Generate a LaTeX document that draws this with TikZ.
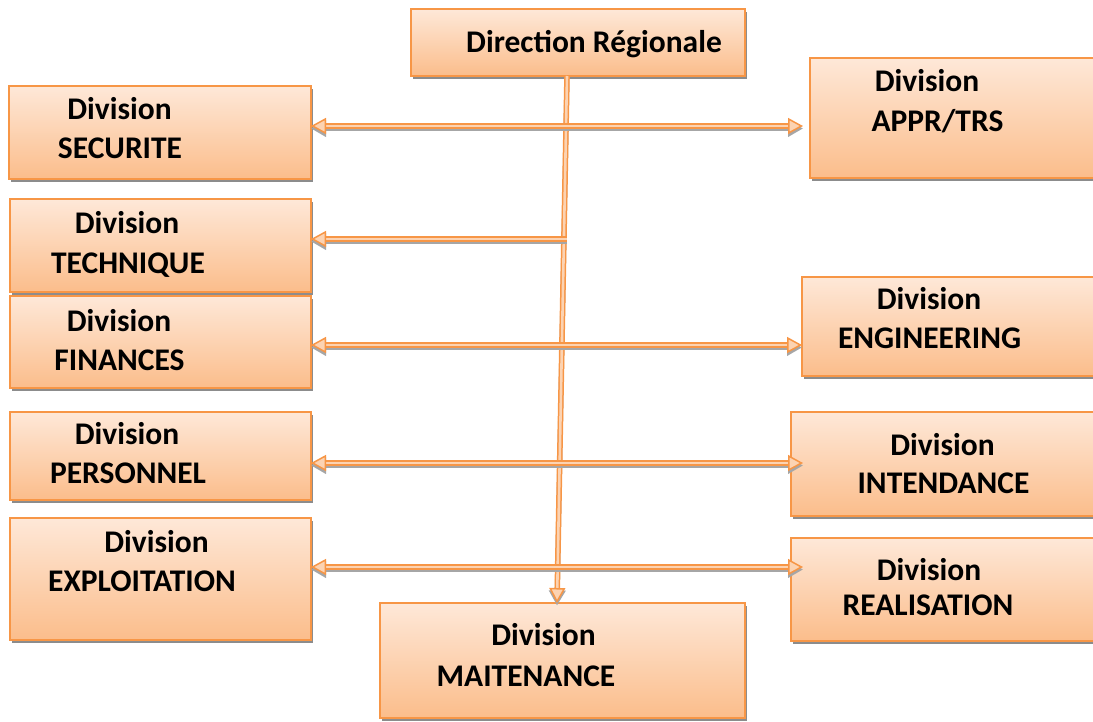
\documentclass[tikz,border=0pt]{standalone}
\usepackage{fontspec}
\setmainfont{Carlito}
\usetikzlibrary{arrows.meta,shadows}
\definecolor{boxline}{HTML}{F79646}
\definecolor{boxtop}{HTML}{FEE8D8}
\definecolor{boxbot}{HTML}{FBBD8B}
\definecolor{arrin}{HTML}{FCD3B2}
\tikzset{
  box/.style={draw=boxline, line width=1.6pt, rectangle, inner sep=0pt, outer sep=0pt,
    top color=boxtop, bottom color=boxbot, anchor=north west,
    drop shadow={shadow xshift=1.5pt, shadow yshift=-3pt, fill=black!45, opacity=1}},
  txt/.style={font=\fontsize{31.5}{39}\selectfont\bfseries, inner sep=0pt, anchor=base},
  conn/.style={draw=boxline, line width=1.5pt, double=arrin, double distance=2.6pt,
    preaction={draw=black!35, line width=5pt, transform canvas={yshift=-2.5pt}}},
  tipb/.style={{Triangle[open, length=15pt, width=16pt, fill=arrin]}-{Triangle[open, length=15pt, width=16pt, fill=arrin]}},
  tipe/.style={-{Triangle[open, length=15pt, width=16pt, fill=arrin]}},
}
\begin{document}
\begin{tikzpicture}[x=1pt, y=-1pt]
\useasboundingbox (0,0) rectangle (1093,721);
% boxes
\node[box, minimum width=334pt, minimum height=67pt] (dr) at (411,9) {};
\node[box, minimum width=302pt, minimum height=93pt] (sec) at (9,86) {};
\node[box, minimum width=301pt, minimum height=93pt] (tech) at (10,199) {};
\node[box, minimum width=301pt, minimum height=92pt] (fin) at (10,296) {};
\node[box, minimum width=301pt, minimum height=88pt] (pers) at (10,412) {};
\node[box, minimum width=301pt, minimum height=122pt] (expl) at (10,518) {};
\node[box, minimum width=285pt, minimum height=120pt] (appr) at (810,58) {};
\node[box, minimum width=292pt, minimum height=99pt] (eng) at (802,277) {};
\node[box, minimum width=303pt, minimum height=104pt] (int) at (791,412) {};
\node[box, minimum width=303pt, minimum height=103pt] (real) at (791,538) {};
\node[box, minimum width=365pt, minimum height=115pt] (mait) at (380,603) {};
% texts
\node[txt] (tdr) at (594,52) {Direction Régionale};
\node[txt] (tsec1) at (119.5,119) {Division};
\node[txt] (tsec2) at (120,158) {SECURITE};
\node[txt] (ttech1) at (127,233) {Division};
\node[txt] (ttech2) at (128,273) {TECHNIQUE};
\node[txt] (tfin1) at (119,331) {Division};
\node[txt] (tfin2) at (119.5,370) {FINANCES};
\node[txt] (tpers1) at (127,444) {Division};
\node[txt] (tpers2) at (128,483) {PERSONNEL};
\node[txt] (texpl1) at (156.5,552) {Division};
\node[txt] (texpl2) at (142,591) {EXPLOITATION};
\node[txt] (tappr1) at (927,91) {Division};
\node[txt] (tappr2) at (937.5,131) {APPR/TRS};
\node[txt] (teng1) at (929,309) {Division};
\node[txt] (teng2) at (929.5,348) {ENGINEERING};
\node[txt] (tint1) at (942.5,455) {Division};
\node[txt] (tint2) at (943.5,493) {INTENDANCE};
\node[txt] (treal1) at (929,580) {Division};
\node[txt] (treal2) at (928,615) {REALISATION};
\node[txt] (tmait1) at (543.5,645) {Division};
\node[txt] (tmait2) at (526,686) {MAITENANCE};
% connectors
\coordinate (vtop) at (567,76);
\coordinate (vt) at (567,239);
\draw[conn, tipe] (dr.south -| vtop) -- (mait.north -| 557,0);
\draw[conn, tipb] (sec.east |- 0,126) -- (803,126);
\draw[conn, tipe] (vt) -- (tech.east |- vt);
\draw[conn, tipb] (fin.east |- 0,345) -- (eng.west |- 0,345);
\draw[conn, tipb] (pers.east |- 0,463) -- (803,463);
\draw[conn, tipb] (expl.east |- 0,567) -- (803,567);
\end{tikzpicture}
\end{document}
